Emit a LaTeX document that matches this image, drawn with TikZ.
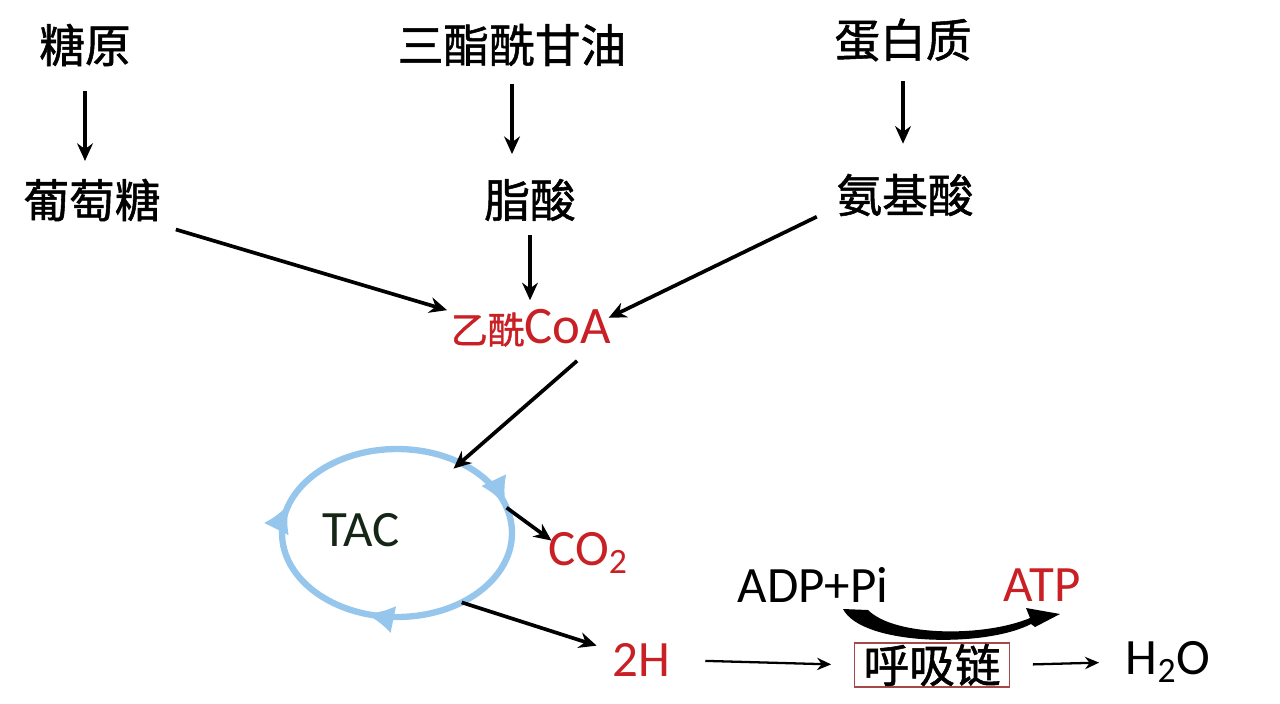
\documentclass[tikz,border=0pt]{standalone}
\usepackage{fontspec}
\setmainfont{Carlito}
\newfontfamily\cjk{Noto Sans CJK SC}[FakeBold=1.2]
\usetikzlibrary{
  arrows.meta, shapes.geometric,
  positioning, calc, decorations.markings
}
\definecolor{PathRed}{RGB}{200,32,36}
\definecolor{RingBlue}{RGB}{150,198,236}
\definecolor{TacDark}{RGB}{22,38,22}
\definecolor{BoxRed}{RGB}{165,72,72}

\begin{document}
\begin{tikzpicture}[x=0.02cm, y=-0.02cm,
    cn/.style={font=\cjk\fontsize{26}{30}\selectfont, inner sep=2pt},
    lt/.style={font=\fontsize{29}{34}\selectfont, inner sep=2pt},
    flow/.style={-{Stealth[length=10pt,width=9pt]}, line width=2.1pt},
    thin flow/.style={-{Stealth[length=8pt,width=7pt]}, line width=1.3pt},
    ring/.style={RingBlue, line width=3.6pt,
      decoration={markings,
        mark=at position 0.30 with {\arrow{Latex[length=16pt,width=16pt]}},
        mark=at position 0.548 with {\arrow{Latex[length=16pt,width=16pt]}},
        mark=at position 0.955 with {\arrow{Latex[length=16pt,width=16pt]}}},
      postaction={decorate}}]
  \useasboundingbox (0,0) rectangle (1280,703);
  % sources and products
  \node[cn] (gly) at (85,45) {糖原};
  \node[cn] (tag) at (512,45) {三酯酰甘油};
  \node[cn] (pro) at (903,40) {蛋白质};
  \node[cn] (glu) at (92,200) {葡萄糖};
  \node[cn] (fa) at (530,200) {脂酸};
  \node[cn] (aa) at (905,195) {氨基酸};
  \node[lt, text=PathRed] (acoa) at (531,328)
    {{\cjk\fontsize{21}{24}\selectfont 乙酰}{\fontsize{30}{34}\selectfont CoA}};
  % TAC cycle
  \node[ellipse, minimum width=4.6cm, minimum height=3.36cm,
        inner sep=0pt, outer sep=0pt] (cyc) at (397,533) {};
  \draw[ring] (cyc.center) ellipse [x radius=115, y radius=84];
  \node[lt, text=TacDark] (tac) at (361,530) {TAC};
  \node[lt, text=PathRed] (co2) at (588,553) {CO\textsubscript{2}};
  \node[lt, text=PathRed] (twoh) at (641,660) {2H};
  % respiratory chain
  \node[cn, draw=BoxRed, line width=0.6pt, inner sep=0pt,
        minimum width=3.1cm, minimum height=0.88cm] (chain) at (932,665) {呼吸链};
  \node[lt] (h2o) at (1168,662) {H\textsubscript{2}O};
  \node[lt] (adp) at (813,585) {ADP+Pi};
  \node[lt, text=PathRed] (atp) at (1042,585) {ATP};

  \foreach \a/\b/\s/\e in {gly/glu/12/8, tag/fa/8/12, pro/aa/9/15}
    {\draw[flow, shorten <=\s pt, shorten >=\e pt] (\a.south) -- (\a.south |- \b.north);}
  \draw[flow, shorten <=6pt, shorten >=3pt] (fa.south) -- (fa.south |- acoa.north);
  \draw[flow, shorten <=9pt] (glu.-20) -- (acoa.168);
  \draw[flow, shorten <=10pt, shorten >=-4pt] (aa.191) -- (acoa.9);
  \draw[flow, shorten <=9pt, shorten >=-5pt] ($(acoa.south)+(58,0)$) -- (cyc.48);
  \draw[flow, shorten >=-5pt] (cyc.13) -- (co2.158);
  \draw[flow, shorten >=7pt] (cyc.-47) -- (twoh.162);
  \draw[thin flow, shorten <=18pt, shorten >=13pt] (twoh.east) -- (chain.west);
  \draw[thin flow, shorten <=13pt, shorten >=13pt] (chain.east) -- (h2o.west);
  % ADP+Pi -> ATP swoosh
  \fill (843,609) -- (868,610) .. controls (895,637) and (985,637) .. (1030,618)
    -- (1026,608) -- (1060,614) -- (1035,627) -- (1031,624)
    .. controls (985,648) and (862,646) .. (843,609) -- cycle;
\end{tikzpicture}
\end{document}
